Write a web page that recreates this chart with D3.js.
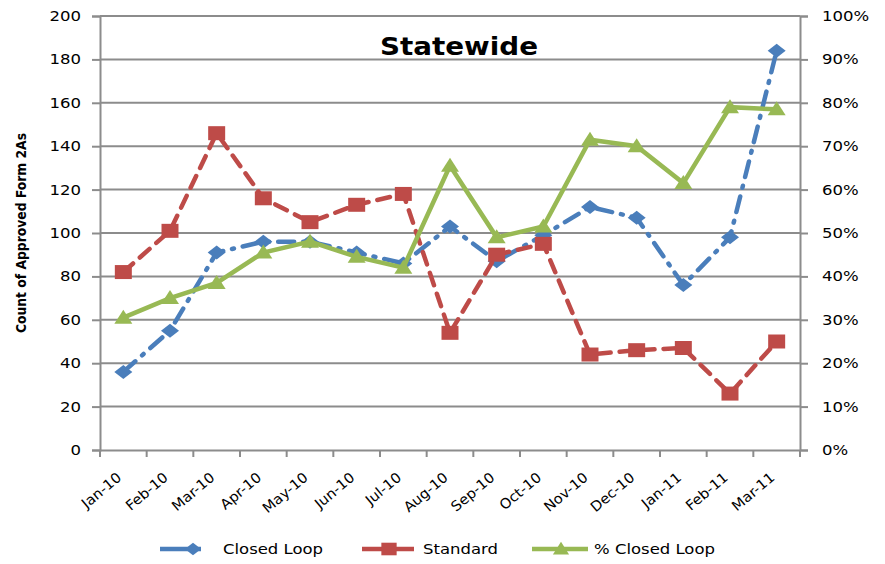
<!DOCTYPE html>
<html>
<head>
<meta charset="utf-8">
<script src="https://cdn.jsdelivr.net/npm/d3@7"></script>
<style>
  body { margin: 0; background: #fff; }
  text { font-family: "DejaVu Sans", Verdana, sans-serif; }
</style>
</head>
<body>
<div id="chart"></div>
<script>
const months = ["Jan-10", "Feb-10", "Mar-10", "Apr-10", "May-10", "Jun-10", "Jul-10", "Aug-10",
    "Sep-10", "Oct-10", "Nov-10", "Dec-10", "Jan-11", "Feb-11", "Mar-11"];
const closedLoop = [36, 55, 91, 96, 96, 91, 86, 103, 87, 99, 112, 107, 76, 98, 184];
const standard = [82, 101, 146, 116, 105, 113, 118, 54, 90, 95, 44, 46, 47, 26, 50];
const pctClosedLoop = [30.5, 35, 38.5, 45.5, 48, 44.5, 42, 65.5, 49, 51.5, 71.5, 70, 61.5, 79, 78.5];
const leftTicks = [0, 20, 40, 60, 80, 100, 120, 140, 160, 180, 200];
const rightTicks = [0, 10, 20, 30, 40, 50, 60, 70, 80, 90, 100];

const W = 885, H = 564;
const pl = 100, pr = 800, pt = 16, pb = 450;
const grey = "#8c8c8c";
const sx = 1.18; // horizontal stretch of the original picture's text

const svg = d3.select("#chart").append("svg")
    .attr("width", W)
    .attr("height", H);

const x = d3.scaleBand().domain(months).range([pl, pr]);
const y = d3.scaleLinear().domain([0, 200]).range([pb, pt]);
const y2 = d3.scaleLinear().domain([0, 100]).range([pb, pt]);
const cx = d => x(d) + x.bandwidth() / 2;

// marker shapes, a bit wider than tall like in the original
const diamond = { draw(c) { c.moveTo(0, -7); c.lineTo(9, 0); c.lineTo(0, 7); c.lineTo(-9, 0); c.closePath(); } };
const square = { draw(c) { c.rect(-8.5, -7, 17, 14); } };
const triangle = { draw(c) { c.moveTo(0, -8); c.lineTo(9, 6); c.lineTo(-9, 6); c.closePath(); } };

// gridlines
svg.append("g")
    .selectAll("line")
    .data(leftTicks.slice(1))
    .join("line")
    .attr("x1", pl).attr("x2", pr)
    .attr("y1", d => y(d)).attr("y2", d => y(d))
    .attr("stroke", grey).attr("stroke-width", 2);

// axes
const yAxis = d3.axisLeft(y).tickValues(leftTicks).tickSize(8).tickPadding(11);
const y2Axis = d3.axisRight(y2).tickValues(rightTicks).tickSize(8).tickPadding(14).tickFormat(d => d + "%");
const xAxis = d3.axisBottom(x).tickSize(0).tickFormat("");

function styleAxis(g) {
    g.select(".domain").attr("stroke", grey).attr("stroke-width", 2);
    g.selectAll(".tick line").attr("stroke", grey).attr("stroke-width", 2);
    g.selectAll(".tick text").attr("font-size", 14).attr("fill", "#000")
        .attr("font-family", "DejaVu Sans, Verdana, sans-serif")
        .attr("x", function () { return +d3.select(this).attr("x") / sx; })
        .attr("transform", `scale(${sx},1)`);
}

svg.append("g").attr("transform", `translate(${pl},0)`).call(yAxis).call(styleAxis);
svg.append("g").attr("transform", `translate(${pr},0)`).call(y2Axis).call(styleAxis);

const xg = svg.append("g").attr("transform", `translate(0,${pb})`).call(xAxis).call(styleAxis);
// x tick marks on band edges
xg.selectAll(".edge")
    .data(d3.range(months.length + 1))
    .join("line")
    .attr("x1", i => pl + i * x.step()).attr("x2", i => pl + i * x.step())
    .attr("y1", 0).attr("y2", 7)
    .attr("stroke", grey).attr("stroke-width", 2);

svg.append("g")
    .selectAll("text")
    .data(months)
    .join("text")
    .attr("transform", d => `translate(${cx(d) - 1},${pb + 29}) rotate(-40) scale(1.05,1)`)
    .attr("text-anchor", "end")
    .attr("font-size", 14)
    .text(d => d);

// title
svg.append("text")
    .attr("x", 459).attr("y", 55)
    .attr("text-anchor", "middle")
    .attr("font-size", 24).attr("font-weight", "bold")
    .attr("textLength", 158).attr("lengthAdjust", "spacingAndGlyphs")
    .text("Statewide");

// y axis title
svg.append("text")
    .attr("transform", `translate(26,${(pt + pb) / 2}) rotate(-90)`)
    .attr("text-anchor", "middle")
    .attr("font-size", 14).attr("font-weight", "bold")
    .attr("font-family", "Liberation Sans Narrow, Arial Narrow, sans-serif")
    .attr("textLength", 200).attr("lengthAdjust", "spacingAndGlyphs")
    .text("Count of Approved Form 2As");

const blue = "#4a7ebb", red = "#be4b48", green = "#98b954";

const series = [
    { name: "Closed Loop", values: closedLoop, scale: y, color: blue, dash: "16,9,2,9", symbol: diamond },
    { name: "Standard", values: standard, scale: y, color: red, dash: "13,9", symbol: square },
    { name: "% Closed Loop", values: pctClosedLoop, scale: y2, color: green, dash: null, symbol: triangle }
];

const line = d3.line();

series.forEach(s => {
    const pts = s.values.map((v, i) => [cx(months[i]), s.scale(v)]);
    svg.append("path")
        .attr("d", line(pts))
        .attr("fill", "none")
        .attr("stroke", s.color)
        .attr("stroke-width", 4.5)
        .attr("stroke-linecap", "round")
        .attr("stroke-dasharray", s.dash);
    svg.append("g")
        .selectAll("path")
        .data(pts)
        .join("path")
        .attr("transform", d => `translate(${d[0]},${d[1]})`)
        .attr("d", d3.symbol(s.symbol))
        .attr("fill", s.color);
});

// legend
const legendItems = [
    { x1: 160, x2: 201, mx: 193, tx: 223, tw: 100 },
    { x1: 362, x2: 414, mx: 389, tx: 423, tw: 75 },
    { x1: 532, x2: 588, mx: 561, tx: 594, tw: 121 }
];
series.forEach((s, i) => {
    const it = legendItems[i];
    svg.append("line")
        .attr("x1", it.x1).attr("x2", it.x2)
        .attr("y1", 549).attr("y2", 549)
        .attr("stroke", s.color).attr("stroke-width", 4.5);
    svg.append("path")
        .attr("transform", `translate(${it.mx},549) scale(0.9)`)
        .attr("d", d3.symbol(s.symbol))
        .attr("fill", s.color);
    svg.append("text")
        .attr("x", it.tx).attr("y", 554)
        .attr("font-size", 14)
        .attr("textLength", it.tw).attr("lengthAdjust", "spacingAndGlyphs")
        .text(s.name);
});
</script>
</body>
</html>
